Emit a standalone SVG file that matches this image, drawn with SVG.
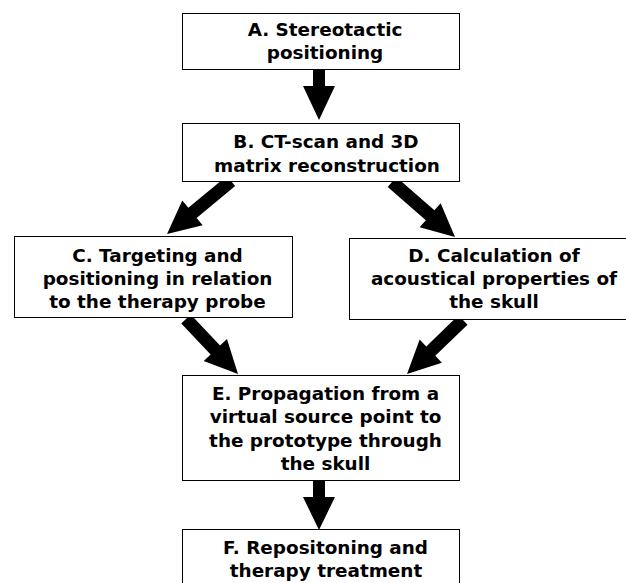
<svg xmlns="http://www.w3.org/2000/svg" width="626" height="583" viewBox="0 0 626 583">
<style>
.box{fill:#fff;stroke:#000;stroke-width:1}
.t{font-family:"DejaVu Sans","Verdana",sans-serif;font-weight:bold;font-size:18.4px;fill:#000;text-anchor:middle}
.arr{fill:#000;stroke:none}
</style>
<rect width="626" height="583" fill="#fff"/>
<g id="connectors">
<polygon class="arr" points="0,-6 16,-6 16,-16 50,0 16,16 16,6 0,6" transform="translate(319,70) rotate(90)"/>
<polygon class="arr" points="0,-6.5 50,-6.5 50,-16 83,0 50,16 50,6.5 0,6.5" transform="translate(231,181) rotate(140.4)"/>
<polygon class="arr" points="0,-6.5 50.6,-6.5 50.6,-16 83.6,0 50.6,16 50.6,6.5 0,6.5" transform="translate(392,182) rotate(41.1)"/>
<polygon class="arr" points="0,-6.5 42.7,-6.5 42.7,-16 75.7,0 42.7,16 42.7,6.5 0,6.5" transform="translate(186,319) rotate(46.6)"/>
<polygon class="arr" points="0,-6.5 44.8,-6.5 44.8,-16 77.8,0 44.8,16 44.8,6.5 0,6.5" transform="translate(463,320) rotate(136)"/>
<polygon class="arr" points="0,-6 16,-6 16,-16 49,0 16,16 16,6 0,6" transform="translate(319,481) rotate(90)"/>
</g>
<g id="nodeA">
<rect class="box" x="182.5" y="13.5" width="277" height="56"/>
<text class="t" x="325" y="36">A. Stereotactic</text>
<text class="t" x="325" y="59">positioning</text>
</g>
<g id="nodeB">
<rect class="box" x="182.5" y="123.5" width="277" height="58"/>
<text class="t" x="326" y="148">B. CT-scan and 3D</text>
<text class="t" x="327" y="171.5">matrix reconstruction</text>
</g>
<g id="nodeC">
<rect class="box" x="14.5" y="236.5" width="278" height="81"/>
<text class="t" x="157.5" y="261.5">C. Targeting and</text>
<text class="t" x="157.5" y="284.5">positioning in relation</text>
<text class="t" x="157.5" y="307.5">to the therapy probe</text>
</g>
<g id="nodeD">
<rect class="box" x="349.5" y="238.5" width="280" height="81"/>
<text class="t" x="494" y="262">D. Calculation of</text>
<text class="t" x="494" y="284.5">acoustical properties of</text>
<text class="t" x="494" y="308">the skull</text>
</g>
<g id="nodeE">
<rect class="box" x="182.5" y="375.5" width="277" height="105"/>
<text class="t" x="325.5" y="399.5">E. Propagation from a</text>
<text class="t" x="325.5" y="423">virtual source point to</text>
<text class="t" x="325.5" y="447">the prototype through</text>
<text class="t" x="325.5" y="470">the skull</text>
</g>
<g id="nodeF">
<rect class="box" x="182.5" y="529.5" width="277" height="60"/>
<text class="t" x="325.5" y="553.5">F. Repositoning and</text>
<text class="t" x="326" y="576.5">therapy treatment</text>
</g>
</svg>
